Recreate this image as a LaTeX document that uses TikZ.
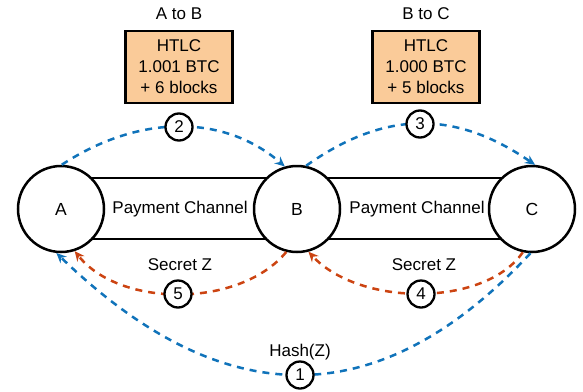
\documentclass[tikz,border=0pt]{standalone}
\usepackage{fontspec}
\setmainfont{Liberation Sans}
\usetikzlibrary{arrows.meta}
\definecolor{msgblue}{RGB}{16,115,186}
\definecolor{secretred}{RGB}{204,68,18}
\definecolor{htlcfill}{RGB}{250,203,153}
\begin{document}
\begin{tikzpicture}[x=1pt,y=-1pt,
  txt/.style={font=\fontsize{17}{20}\selectfont, inner sep=0pt},
  peer/.style={circle, draw, line width=2.5pt, fill=white, minimum size=86pt, inner sep=0pt, font=\fontsize{17.5}{20}\selectfont},
  chan/.style={draw, line width=2.5pt},
  htlc/.style={draw, line width=2.5pt, fill=htlcfill, minimum width=107pt, minimum height=72pt, align=center, inner sep=0pt, font=\fontsize{17}{21}\selectfont},
  stepnum/.style={circle, draw, line width=2.3pt, fill=white, minimum size=27pt, inner sep=0pt, font=\fontsize{17}{18}\selectfont},
  flow/.style={line width=2.5pt, dash pattern=on 7pt off 6pt, -{Stealth[length=10pt,width=9pt]}},
  hashflow/.style={flow, color=msgblue},
  secretflow/.style={flow, color=secretred}]
\useasboundingbox (0,0) rectangle (583,391);

% payment channels behind the peers
\draw[chan] (61,178) rectangle (297,239);
\draw[chan] (297,178) rectangle (532,239);

% peers
\node[peer] (A) at (61,209) {A};
\node[peer] (B) at (297,209) {B};
\node[peer] (C) at (532,209) {C};

\node[txt, fill=white] (pc1) at (180,209) {Payment Channel};
\node[txt, fill=white] (pc2) at (417,209) {Payment Channel};

% HTLC contracts
\node[htlc] (h1) at (179,67) {HTLC\\1.001 BTC\\+ 6 blocks};
\node[htlc] (h2) at (426,67) {HTLC\\1.000 BTC\\+ 5 blocks};
\node[txt] (l1) at (179,14) {A to B};
\node[txt] (l2) at (426,14) {B to C};

% flows
\draw[hashflow] (A.89) .. controls (139,114) and (224,114) .. (B.106);
\draw[hashflow] (B.78) .. controls (385,110) and (455,110) .. (C.86);
\draw[secretflow] (B.256) .. controls (240,308) and (120,308) .. (A.288);
\draw[secretflow] (C.258) .. controls (485,307) and (360,307) .. (B.285);
\draw[hashflow] (C.268) .. controls (380,415) and (224,415) .. (A.264);

% step markers
\node[stepnum] (n2) at (179,127) {2};
\node[stepnum] (n3) at (420,124) {3};
\node[stepnum] (n5) at (178,294) {5};
\node[stepnum] (n4) at (421,294) {4};
\node[stepnum] (n1) at (300,375) {1};

\node[txt] (s1) at (180,265) {Secret Z};
\node[txt] (s2) at (424,265) {Secret Z};
\node[txt] (hz) at (300,352) {Hash(Z)};
\end{tikzpicture}
\end{document}
